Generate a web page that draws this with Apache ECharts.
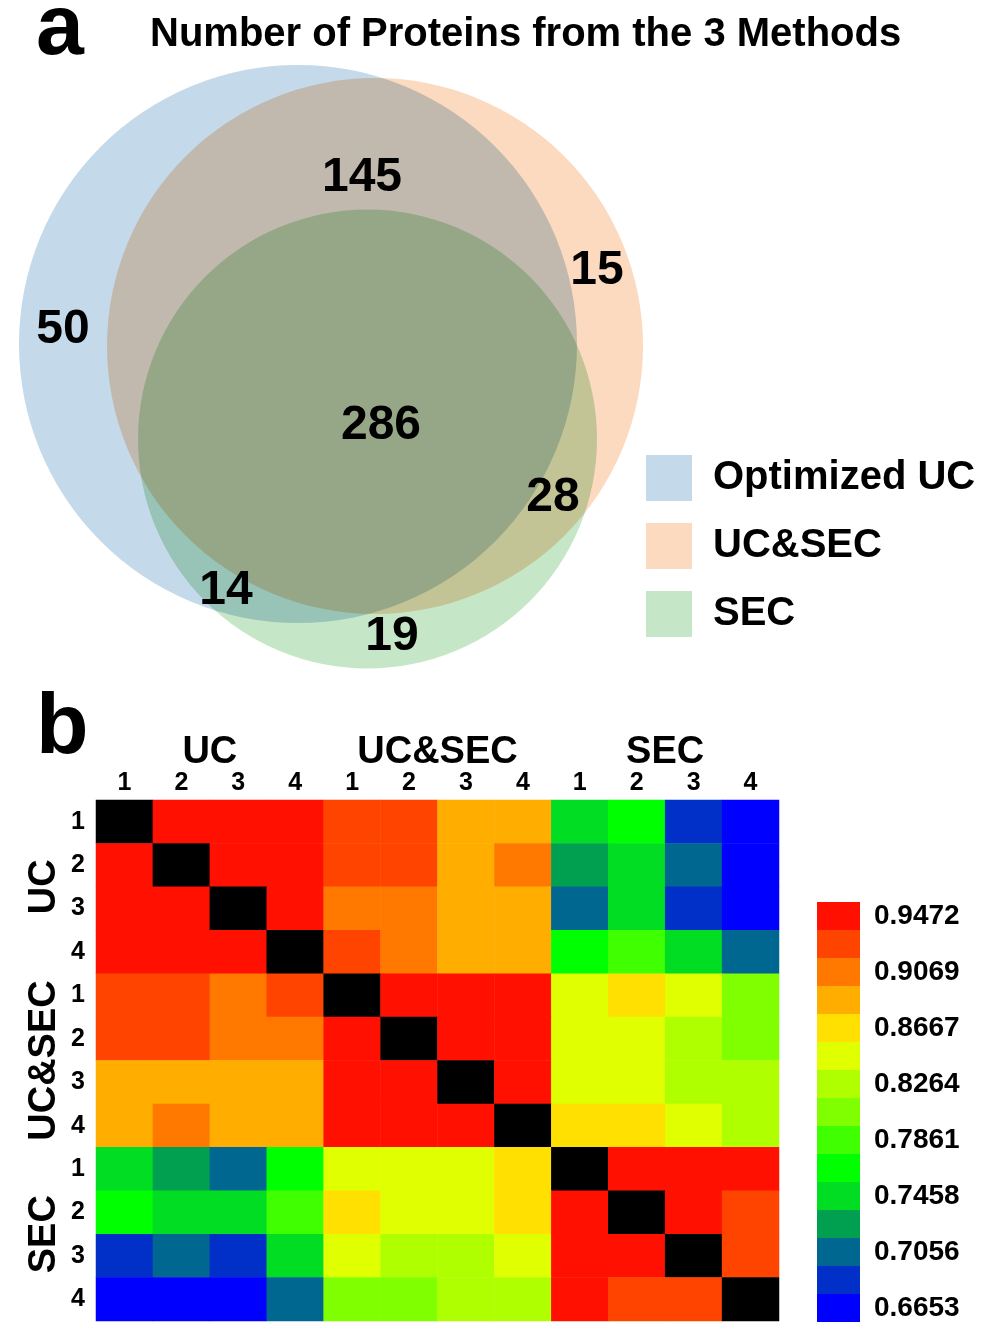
<!DOCTYPE html>
<html><head><meta charset="utf-8">
<script src="https://cdn.jsdelivr.net/npm/echarts@6/dist/echarts.min.js"></script>
<style>html,body{margin:0;padding:0;background:#fff}#c{width:984px;height:1336px}</style>
</head><body><div id="c"></div>
<script>
// ---------- Venn data ----------
const vennSets = ['Optimized UC', 'UC&SEC', 'SEC'];
const vennColors = ['#c4d9e9', '#fcdabf', '#c6e6c8'];
// circle layout [centre x, centre y, radius] in layout units
const vennCircles = [[298, 344, 279], [375, 346, 268], [367.5, 439, 229.5]];
const vennCounts = [50, 145, 15, 286, 28, 14, 19];
const vennLabelPos = [[63, 327], [362, 175], [597, 268], [381, 423], [553, 495], [226, 588], [392, 634]];

// ---------- Heatmap data ----------
const groups = ['UC', 'UC&SEC', 'SEC'];
const reps = ['1', '2', '3', '4'];
const corr = [
  [1, .951, .948, .944, .926, .924, .887, .884, .745, .766, .685, .6653],
  [.951, 1, .953, .946, .929, .921, .889, .906, .726, .747, .705, .668],
  [.948, .953, 1, .950, .908, .903, .882, .886, .707, .743, .688, .671],
  [.944, .946, .950, 1, .919, .899, .880, .891, .768, .786, .748, .703],
  [.926, .929, .908, .919, 1, .949, .946, .942, .846, .862, .849, .806],
  [.924, .921, .903, .899, .949, 1, .952, .944, .843, .840, .826, .803],
  [.887, .889, .882, .880, .946, .952, 1, .947, .848, .845, .829, .823],
  [.884, .906, .886, .891, .942, .944, .947, 1, .864, .859, .851, .831],
  [.745, .726, .707, .768, .846, .843, .848, .864, 1, .945, .948, .940],
  [.766, .747, .743, .786, .862, .840, .845, .859, .945, 1, .943, .928],
  [.685, .705, .688, .748, .849, .826, .829, .851, .948, .943, 1, .925],
  [.6653, .668, .671, .703, .806, .803, .823, .831, .940, .928, .925, 1]
];
const colorTicks = ['0.9472', '0.9069', '0.8667', '0.8264', '0.7861', '0.7458', '0.7056', '0.6653'];
const bandColors = ['#ff1000', '#ff4400', '#ff7800', '#ffae00', '#ffe000', '#e0ff00', '#b0ff00', '#80ff00',
  '#40ff00', '#00ff00', '#00dd22', '#00a050', '#006890', '#0030c8', '#0000ff'];

// ---------- build ----------
const FONT = '"Liberation Sans", Arial, sans-serif';
const samples = [];
groups.forEach(g => reps.forEach(r => samples.push(g + '-' + r)));
const heatData = [];
corr.forEach((row, i) => row.map((v, j) => heatData.push([j, i, v])));

const vTop = parseFloat(colorTicks[0]);
const vBot = parseFloat(colorTicks[colorTicks.length - 1]);
const step = (vTop - vBot) / (bandColors.length - 1);
const pieces = bandColors.map((c, k) => ({
  gte: vTop + step / 2 - (k + 1) * step,
  lt: vTop + step / 2 - k * step,
  color: c,
  label: k % 2 === 0 ? colorTicks[k / 2] : ' '
}));

const vennSeries = vennSets.map((name, i) => ({
  type: 'custom', name: name, xAxisIndex: 0, yAxisIndex: 0,
  itemStyle: {color: vennColors[i]},
  blendMode: 'multiply',
  clip: false, silent: true,
  encode: {x: 0, y: 1},
  data: [vennCircles[i]],
  renderItem: (params, api) => {
    const c = api.coord([api.value(0), api.value(1)]);
    const s = api.size([api.value(2), api.value(2)]);
    return {type: 'circle', shape: {cx: c[0], cy: c[1], r: Math.abs(s[0])},
      style: {fill: api.visual('color')}};
  }
}));

const option = {
  backgroundColor: '#fff',
  animation: false,
  textStyle: {fontFamily: FONT},
  title: [
    {text: 'a', left: 36, top: -13, padding: 0, textStyle: {fontSize: 86, fontWeight: 'bold', color: '#000', fontFamily: FONT}},
    {text: 'Number of Proteins from the 3 Methods', left: 150, top: 15, padding: 0,
      textStyle: {fontSize: 40, fontWeight: 'bold', color: '#000', fontFamily: FONT}},
    {text: 'b', left: 36, top: 686, padding: 0, textStyle: {fontSize: 86, fontWeight: 'bold', color: '#000', fontFamily: FONT}}
  ],
  legend: {
    data: vennSets, orient: 'vertical', left: 646, top: 455, padding: 0,
    icon: 'rect', itemWidth: 46, itemHeight: 46, itemGap: 22, selectedMode: false,
    textStyle: {fontSize: 40, fontWeight: 'bold', color: '#000', fontFamily: FONT, padding: [0, 0, 0, 16]}
  },
  grid: [
    {left: 0, top: 0, width: 984, height: 700, show: false},
    {left: 96, top: 800, width: 683, height: 521, show: false}
  ],
  xAxis: [
    {gridIndex: 0, type: 'value', min: 0, max: 984, show: false},
    {gridIndex: 1, type: 'category', data: samples, position: 'top',
      axisLine: {show: false}, axisTick: {show: false}, splitLine: {show: false},
      axisLabel: {interval: 0, margin: 4, fontSize: 25, fontWeight: 'bold', color: '#000', fontFamily: FONT,
        formatter: v => v.split('-').pop()}},
    {gridIndex: 1, type: 'category', data: groups, position: 'top', offset: 20,
      axisLine: {show: false}, axisTick: {show: false}, splitLine: {show: false},
      axisLabel: {interval: 0, margin: 8, fontSize: 38, fontWeight: 'bold', color: '#000', fontFamily: FONT}}
  ],
  yAxis: [
    {gridIndex: 0, type: 'value', min: 0, max: 700, inverse: true, show: false},
    {gridIndex: 1, type: 'category', data: samples, inverse: true, position: 'left',
      axisLine: {show: false}, axisTick: {show: false}, splitLine: {show: false},
      axisLabel: {interval: 0, margin: 11, fontSize: 25, fontWeight: 'bold', color: '#000', fontFamily: FONT,
        formatter: v => v.split('-').pop()}},
    {gridIndex: 1, type: 'category', data: groups, inverse: true, position: 'left', offset: 24,
      axisLine: {show: false}, axisTick: {show: false}, splitLine: {show: false},
      axisLabel: {interval: 0, margin: 8, rotate: 90, fontSize: 38, fontWeight: 'bold', color: '#000', fontFamily: FONT}}
  ],
  visualMap: {
    type: 'piecewise', seriesIndex: 4, pieces: pieces,
    orient: 'vertical', left: 817, top: 902, padding: 0, align: 'left',
    itemWidth: 43, itemHeight: 28, itemGap: 0, itemSymbol: 'rect', textGap: 14,
    selectedMode: false, hoverLink: false,
    outOfRange: {color: '#000000'},
    textStyle: {fontSize: 28, fontWeight: 'bold', color: '#000', fontFamily: FONT}
  },
  series: [
    ...vennSeries,
    {
      type: 'scatter', xAxisIndex: 0, yAxisIndex: 0, symbolSize: 1, silent: true,
      itemStyle: {color: 'transparent', opacity: 1},
      data: vennCounts.map((c, i) => [vennLabelPos[i][0], vennLabelPos[i][1], c]),
      label: {show: true, position: 'inside', offset: [0, 3], formatter: p => p.value[2], opacity: 1,
        fontSize: 48, fontWeight: 'bold', color: '#000', fontFamily: FONT}
    },
    {
      type: 'heatmap', xAxisIndex: 1, yAxisIndex: 1, data: heatData,
      itemStyle: {borderWidth: 0}, emphasis: {disabled: true}, silent: true
    }
  ]
};
const chart = echarts.init(document.getElementById('c'), null, {renderer: 'canvas'});
chart.setOption(option);
</script>
</body></html>
